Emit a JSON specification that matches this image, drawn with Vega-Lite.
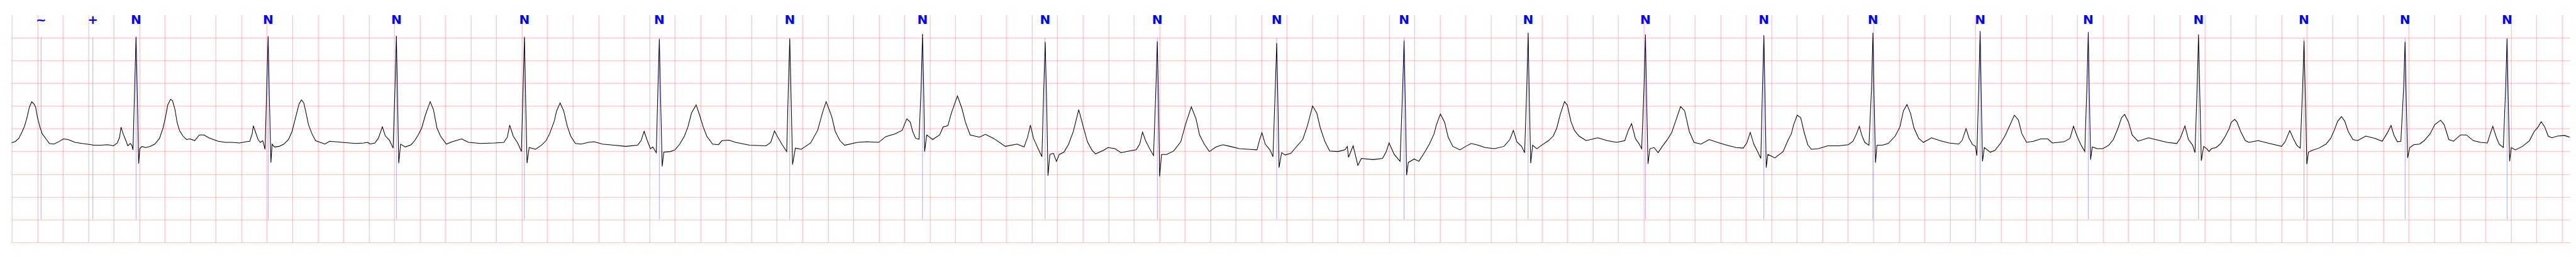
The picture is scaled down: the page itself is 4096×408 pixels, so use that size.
{
  "$schema": "https://vega.github.io/schema/vega-lite/v6.json",
  "width": 4067.3,
  "height": 360.8,
  "autosize": {"type": "none"},
  "padding": {"left": 18.66, "top": 23.77, "right": 10.04, "bottom": 23.43},
  "background": "white",
  "config": {"view": {"stroke": null}},
  "datasets": {
    "ann": [
      {"t": 0.230, "label": "~"}, {"t": 0.6365, "label": "+"},
      {"t": 0.975, "label": "N"}, {"t": 2.011, "label": "N"}, {"t": 3.017, "label": "N"}, {"t": 4.021, "label": "N"},
      {"t": 5.079, "label": "N"}, {"t": 6.102, "label": "N"}, {"t": 7.143, "label": "N"}, {"t": 8.105, "label": "N"},
      {"t": 8.985, "label": "N"}, {"t": 9.921, "label": "N"}, {"t": 10.920, "label": "N"}, {"t": 11.893, "label": "N"},
      {"t": 12.813, "label": "N"}, {"t": 13.742, "label": "N"}, {"t": 14.597, "label": "N"}, {"t": 15.438, "label": "N"},
      {"t": 16.286, "label": "N"}, {"t": 17.151, "label": "N"}, {"t": 17.978, "label": "N"}, {"t": 18.771, "label": "N"},
      {"t": 19.571, "label": "N"}
    ],
    "ecg": [
      {"t":0.000,"v":-0.311},{"t":0.0276,"v":-0.285},{"t":0.0552,"v":-0.215},{"t":0.0828,"v":-0.063},{"t":0.1012,"v":0.063},
      {"t":0.1196,"v":0.240},{"t":0.1380,"v":0.467},{"t":0.1564,"v":0.588},{"t":0.1748,"v":0.543},{"t":0.1876,"v":0.467},
      {"t":0.2024,"v":0.240},{"t":0.2208,"v":0.038},{"t":0.2392,"v":-0.114},{"t":0.2667,"v":-0.215},{"t":0.2943,"v":-0.328},
      {"t":0.3311,"v":-0.341},{"t":0.3679,"v":-0.290},{"t":0.4047,"v":-0.227},{"t":0.4415,"v":-0.240},{"t":0.4967,"v":-0.303},
      {"t":0.5519,"v":-0.328},{"t":0.6071,"v":-0.348},{"t":0.6439,"v":-0.366},{"t":0.6991,"v":-0.366},{"t":0.7543,"v":-0.354},
      {"t":0.7984,"v":-0.379},{"t":0.8279,"v":-0.316},{"t":0.8462,"v":-0.189},{"t":0.8573,"v":0.033},{"t":0.8738,"v":-0.114},
      {"t":0.8922,"v":-0.240},{"t":0.9106,"v":-0.379},{"t":0.9290,"v":-0.328},{"t":0.9419,"v":-0.366},{"t":0.9511,"v":-0.467},
      {"t":0.9640,"v":0.896},{"t":0.9750,"v":2.020},{"t":0.9860,"v":0.644},{"t":0.9953,"v":-0.770},{"t":1.0045,"v":-0.442},
      {"t":1.0210,"v":-0.391},{"t":1.0486,"v":-0.417},{"t":1.0854,"v":-0.391},{"t":1.1222,"v":-0.341},{"t":1.1590,"v":-0.215},
      {"t":1.1866,"v":0.013},{"t":1.2050,"v":0.240},{"t":1.2234,"v":0.518},{"t":1.2455,"v":0.644},{"t":1.2602,"v":0.619},
      {"t":1.2786,"v":0.442},{"t":1.2970,"v":0.139},{"t":1.3154,"v":-0.038},{"t":1.3430,"v":-0.164},{"t":1.3706,"v":-0.240},
      {"t":1.3982,"v":-0.227},{"t":1.4350,"v":-0.265},{"t":1.4717,"v":-0.139},{"t":1.5085,"v":-0.139},{"t":1.5453,"v":-0.202},
      {"t":1.5821,"v":-0.240},{"t":1.6189,"v":-0.278},{"t":1.6741,"v":-0.303},{"t":1.7293,"v":-0.303},{"t":1.7845,"v":-0.316},
      {"t":1.8397,"v":-0.290},{"t":1.8673,"v":-0.278},{"t":1.8857,"v":-0.114},{"t":1.8949,"v":0.063},{"t":1.9133,"v":-0.088},
      {"t":1.9317,"v":-0.240},{"t":1.9501,"v":-0.303},{"t":1.9685,"v":-0.265},{"t":1.9869,"v":-0.455},{"t":2.0000,"v":0.896},
      {"t":2.0108,"v":2.033},{"t":2.0210,"v":0.644},{"t":2.0328,"v":-0.745},{"t":2.0421,"v":-0.341},{"t":2.0604,"v":-0.404},
      {"t":2.0972,"v":-0.391},{"t":2.1340,"v":-0.341},{"t":2.1708,"v":-0.240},{"t":2.1984,"v":-0.063},{"t":2.2260,"v":0.240},
      {"t":2.2536,"v":0.543},{"t":2.2720,"v":0.631},{"t":2.2904,"v":0.568},{"t":2.3088,"v":0.341},{"t":2.3272,"v":0.088},
      {"t":2.3548,"v":-0.114},{"t":2.3824,"v":-0.265},{"t":2.4192,"v":-0.303},{"t":2.4560,"v":-0.341},{"t":2.4928,"v":-0.278},
      {"t":2.5388,"v":-0.290},{"t":2.5940,"v":-0.303},{"t":2.6492,"v":-0.316},{"t":2.7043,"v":-0.328},{"t":2.7595,"v":-0.316},
      {"t":2.7925,"v":-0.303},{"t":2.8109,"v":-0.341},{"t":2.8477,"v":-0.316},{"t":2.8753,"v":-0.215},{"t":2.9066,"v":0.038},
      {"t":2.9305,"v":-0.164},{"t":2.9618,"v":-0.253},{"t":2.9912,"v":-0.429},{"t":3.0059,"v":0.896},{"t":3.0169,"v":2.038},
      {"t":3.0261,"v":0.644},{"t":3.0353,"v":-0.758},{"t":3.0501,"v":-0.341},{"t":3.0868,"v":-0.404},{"t":3.1328,"v":-0.354},
      {"t":3.1604,"v":-0.265},{"t":3.1880,"v":-0.139},{"t":3.2156,"v":0.013},{"t":3.2432,"v":0.290},{"t":3.2819,"v":0.593},
      {"t":3.3076,"v":0.417},{"t":3.3352,"v":0.013},{"t":3.3628,"v":-0.164},{"t":3.4088,"v":-0.341},{"t":3.4548,"v":-0.290},
      {"t":3.5284,"v":-0.227},{"t":3.5836,"v":-0.303},{"t":3.6756,"v":-0.328},{"t":3.7859,"v":-0.316},{"t":3.8595,"v":-0.303},
      {"t":3.8871,"v":-0.189},{"t":3.9055,"v":0.076},{"t":3.9331,"v":-0.164},{"t":3.9699,"v":-0.328},{"t":3.9975,"v":-0.505},
      {"t":4.0104,"v":0.896},{"t":4.0214,"v":2.020},{"t":4.0306,"v":0.644},{"t":4.0416,"v":-0.758},{"t":4.0582,"v":-0.417},
      {"t":4.1079,"v":-0.455},{"t":4.1539,"v":-0.366},{"t":4.1907,"v":-0.265},{"t":4.2183,"v":-0.114},{"t":4.2551,"v":0.164},
      {"t":4.2735,"v":0.391},{"t":4.3011,"v":0.563},{"t":4.3287,"v":0.391},{"t":4.3562,"v":0.063},{"t":4.3838,"v":-0.164},
      {"t":4.4206,"v":-0.328},{"t":4.4666,"v":-0.341},{"t":4.5218,"v":-0.303},{"t":4.5678,"v":-0.290},{"t":4.6322,"v":-0.341},
      {"t":4.7242,"v":-0.366},{"t":4.8162,"v":-0.391},{"t":4.9082,"v":-0.366},{"t":4.9358,"v":-0.265},{"t":4.9597,"v":-0.058},
      {"t":4.9817,"v":-0.240},{"t":5.0093,"v":-0.442},{"t":5.0277,"v":-0.404},{"t":5.0553,"v":-0.530},{"t":5.0681,"v":0.896},
      {"t":5.0792,"v":1.970},{"t":5.0902,"v":0.518},{"t":5.1013,"v":-0.833},{"t":5.1141,"v":-0.518},{"t":5.1656,"v":-0.505},
      {"t":5.2024,"v":-0.467},{"t":5.2392,"v":-0.341},{"t":5.2760,"v":-0.164},{"t":5.3036,"v":0.038},{"t":5.3312,"v":0.341},
      {"t":5.3680,"v":0.523},{"t":5.3956,"v":0.290},{"t":5.4232,"v":0.038},{"t":5.4508,"v":-0.164},{"t":5.4968,"v":-0.341},
      {"t":5.5428,"v":-0.354},{"t":5.5704,"v":-0.265},{"t":5.6256,"v":-0.253},
      {"t":5.6770,"v":-0.303},{"t":5.7874,"v":-0.366},{"t":5.9162,"v":-0.379},{"t":5.9530,"v":-0.303},{"t":5.9824,"v":-0.051},
      {"t":6.0081,"v":-0.189},{"t":6.0449,"v":-0.366},{"t":6.0781,"v":-0.505},{"t":6.0909,"v":0.896},{"t":6.1020,"v":1.982},
      {"t":6.1130,"v":0.644},{"t":6.1240,"v":-0.790},{"t":6.1461,"v":-0.429},{"t":6.1921,"v":-0.455},{"t":6.2657,"v":-0.316},
      {"t":6.3209,"v":-0.038},{"t":6.3577,"v":0.341},{"t":6.3871,"v":0.593},{"t":6.4313,"v":0.265},{"t":6.4589,"v":-0.063},
      {"t":6.4957,"v":-0.265},{"t":6.5325,"v":-0.366},{"t":6.6337,"v":-0.303},{"t":6.7072,"v":-0.290},{"t":6.7992,"v":-0.303},
      {"t":6.8544,"v":-0.177},{"t":6.9280,"v":-0.114},{"t":6.9832,"v":-0.038},{"t":7.0200,"v":0.215},{"t":7.0476,"v":0.139},
      {"t":7.0660,"v":-0.063},{"t":7.0899,"v":-0.215},{"t":7.1157,"v":-0.235},{"t":7.1322,"v":0.896},{"t":7.1432,"v":2.083},
      {"t":7.1524,"v":0.896},{"t":7.1598,"v":-0.505},{"t":7.1763,"v":-0.139},{"t":7.2223,"v":-0.240},{"t":7.2775,"v":-0.139},
      {"t":7.3051,"v":0.038},{"t":7.3419,"v":0.063},{"t":7.3695,"v":0.341},{"t":7.4173,"v":0.720},{"t":7.4523,"v":0.442},
      {"t":7.4799,"v":0.139},{"t":7.5167,"v":-0.139},{"t":7.5903,"v":-0.189},{"t":7.6363,"v":-0.126},{"t":7.7007,"v":-0.215},
      {"t":7.7927,"v":-0.391},{"t":7.8846,"v":-0.341},{"t":7.9398,"v":-0.404},{"t":7.9674,"v":-0.189},{"t":7.9895,"v":0.076},
      {"t":8.0134,"v":-0.215},{"t":8.0502,"v":-0.442},{"t":8.0796,"v":-0.619},{"t":8.0943,"v":0.896},{"t":8.1054,"v":1.907},
      {"t":8.1164,"v":0.644},{"t":8.1274,"v":-1.035},{"t":8.1422,"v":-0.568},{"t":8.1698,"v":-0.543},{"t":8.1937,"v":-0.720},
      {"t":8.2157,"v":-0.568},{"t":8.2525,"v":-0.518},{"t":8.2893,"v":-0.341},{"t":8.3261,"v":-0.063},{"t":8.3684,"v":0.417},
      {"t":8.3997,"v":0.088},{"t":8.4365,"v":-0.290},{"t":8.4733,"v":-0.480},{"t":8.5009,"v":-0.556},
      {"t":8.5616,"v":-0.480},{"t":8.5984,"v":-0.417},{"t":8.6536,"v":-0.442},{"t":8.6996,"v":-0.530},{"t":8.7640,"v":-0.492},
      {"t":8.8192,"v":-0.467},{"t":8.8468,"v":-0.341},{"t":8.8688,"v":-0.076},{"t":8.8927,"v":-0.265},{"t":8.9295,"v":-0.467},
      {"t":8.9553,"v":-0.593},{"t":8.9737,"v":0.896},{"t":8.9847,"v":1.919},{"t":8.9939,"v":0.644},{"t":9.0031,"v":-1.053},
      {"t":9.0179,"v":-0.568},{"t":9.0583,"v":-0.568},{"t":9.1135,"v":-0.492},{"t":9.1687,"v":-0.290},{"t":9.2055,"v":0.088},
      {"t":9.2515,"v":0.480},{"t":9.2883,"v":0.215},{"t":9.3159,"v":-0.139},{"t":9.3527,"v":-0.341},{"t":9.3932,"v":-0.505},
      {"t":9.4447,"v":-0.404},{"t":9.4998,"v":-0.354},{"t":9.5550,"v":-0.391},{"t":9.6286,"v":-0.442},{"t":9.7022,"v":-0.455},
      {"t":9.7666,"v":-0.467},{"t":9.7850,"v":-0.265},{"t":9.8052,"v":-0.088},{"t":9.8310,"v":-0.341},{"t":9.8678,"v":-0.467},
      {"t":9.8917,"v":-0.619},{"t":9.9101,"v":0.896},{"t":9.9211,"v":1.881},{"t":9.9303,"v":0.644},{"t":9.9395,"v":-0.859},
      {"t":9.9597,"v":-0.530},{"t":9.9873,"v":-0.581},{"t":10.0333,"v":-0.543},{"t":10.0701,"v":-0.417},{"t":10.1253,"v":-0.240},
      {"t":10.1621,"v":0.063},{"t":10.2026,"v":0.497},{"t":10.2357,"v":0.341},{"t":10.2633,"v":0.013},{"t":10.3001,"v":-0.290},
      {"t":10.3369,"v":-0.492},{"t":10.4013,"v":-0.505},{"t":10.4565,"v":-0.467},{"t":10.4749,"v":-0.391},{"t":10.4841,"v":-0.631},
      {"t":10.5209,"v":-0.379},{"t":10.5577,"v":-0.808},{"t":10.5853,"v":-0.657},{"t":10.6773,"v":-0.682},{"t":10.7509,"v":-0.657},
      {"t":10.7785,"v":-0.518},{"t":10.8024,"v":-0.316},{"t":10.8429,"v":-0.568},{"t":10.8888,"v":-0.720},{"t":10.9091,"v":0.896},
      {"t":10.9201,"v":1.937},{"t":10.9293,"v":0.644},{"t":10.9403,"v":-1.023},{"t":10.9532,"v":-0.745},{"t":10.9992,"v":-0.669},
      {"t":11.0360,"v":-0.720},{"t":11.0820,"v":-0.518},{"t":11.1188,"v":-0.341},{"t":11.1556,"v":-0.114},{"t":11.1740,"v":0.088},
      {"t":11.2052,"v":0.321},{"t":11.2383,"v":0.139},{"t":11.2659,"v":-0.189},{"t":11.3027,"v":-0.391},{"t":11.3579,"v":-0.467},
      {"t":11.4039,"v":-0.391},
      {"t":11.4462,"v":-0.328},{"t":11.5014,"v":-0.366},{"t":11.5566,"v":-0.417},{"t":11.6302,"v":-0.442},{"t":11.7038,"v":-0.391},
      {"t":11.7498,"v":-0.240},{"t":11.7773,"v":-0.038},{"t":11.8049,"v":-0.290},{"t":11.8417,"v":-0.391},{"t":11.8657,"v":-0.530},
      {"t":11.8822,"v":0.896},{"t":11.8933,"v":2.109},{"t":11.9024,"v":0.644},{"t":11.9135,"v":-0.758},{"t":11.9282,"v":-0.366},
      {"t":11.9613,"v":-0.442},{"t":11.9981,"v":-0.366},{"t":12.0533,"v":-0.265},{"t":12.0901,"v":-0.164},{"t":12.1177,"v":0.013},
      {"t":12.1453,"v":0.316},{"t":12.1784,"v":0.593},{"t":12.2005,"v":0.518},{"t":12.2281,"v":0.164},{"t":12.2557,"v":-0.038},
      {"t":12.2925,"v":-0.164},{"t":12.3477,"v":-0.265},{"t":12.4396,"v":-0.202},{"t":12.5132,"v":-0.265},{"t":12.5868,"v":-0.303},
      {"t":12.6512,"v":-0.265},{"t":12.6788,"v":-0.038},{"t":12.7046,"v":0.109},{"t":12.7340,"v":-0.215},{"t":12.7616,"v":-0.328},
      {"t":12.7836,"v":-0.442},{"t":12.8020,"v":0.896},{"t":12.8131,"v":2.071},{"t":12.8223,"v":0.644},{"t":12.8333,"v":-0.775},
      {"t":12.8480,"v":-0.442},{"t":12.8811,"v":-0.417},{"t":12.9124,"v":-0.530},{"t":12.9455,"v":-0.391},{"t":12.9823,"v":-0.253},
      {"t":13.0191,"v":-0.088},{"t":13.0467,"v":0.139},{"t":13.0890,"v":0.487},{"t":13.1203,"v":0.391},{"t":13.1571,"v":-0.063},
      {"t":13.1939,"v":-0.303},{"t":13.2491,"v":-0.341},{"t":13.3135,"v":-0.240},{"t":13.3779,"v":-0.303},{"t":13.4515,"v":-0.366},
      {"t":13.5250,"v":-0.417},{"t":13.5802,"v":-0.429},{"t":13.6078,"v":-0.316},{"t":13.6354,"v":-0.083},{"t":13.6630,"v":-0.341},
      {"t":13.6906,"v":-0.492},{"t":13.7182,"v":-0.657},{"t":13.7311,"v":0.896},{"t":13.7421,"v":2.053},{"t":13.7513,"v":0.644},
      {"t":13.7605,"v":-0.859},{"t":13.7734,"v":-0.568},{"t":13.8286,"v":-0.644},{"t":13.8930,"v":-0.505},{"t":13.9298,"v":-0.265},
      {"t":13.9574,"v":-0.114},{"t":13.9758,"v":0.088},{"t":14.0034,"v":0.295},{"t":14.0310,"v":0.240},{"t":14.0586,"v":-0.088},
      {"t":14.0862,"v":-0.354},{"t":14.1138,"v":-0.455},{"t":14.1690,"v":-0.442},{"t":14.2426,"v":-0.379},
      {"t":14.3307,"v":-0.379},{"t":14.4043,"v":-0.354},{"t":14.4411,"v":-0.278},{"t":14.4687,"v":-0.114},{"t":14.4908,"v":0.051},
      {"t":14.5091,"v":-0.139},{"t":14.5331,"v":-0.303},{"t":14.5662,"v":-0.366},{"t":14.5864,"v":0.896},{"t":14.5975,"v":2.109},
      {"t":14.6067,"v":0.644},{"t":14.6177,"v":-0.750},{"t":14.6287,"v":-0.366},{"t":14.6710,"v":-0.366},{"t":14.7170,"v":-0.328},
      {"t":14.7722,"v":-0.164},{"t":14.8090,"v":0.038},{"t":14.8366,"v":0.391},{"t":14.8642,"v":0.530},{"t":14.8918,"v":0.341},
      {"t":14.9194,"v":0.013},{"t":14.9562,"v":-0.215},{"t":14.9930,"v":-0.303},{"t":15.0574,"v":-0.202},{"t":15.1218,"v":-0.265},
      {"t":15.1954,"v":-0.316},{"t":15.2689,"v":-0.341},{"t":15.2965,"v":-0.265},{"t":15.3278,"v":0.000},{"t":15.3518,"v":-0.215},
      {"t":15.3793,"v":-0.354},{"t":15.4014,"v":-0.391},{"t":15.4124,"v":-0.593},{"t":15.4272,"v":0.896},{"t":15.4382,"v":2.146},
      {"t":15.4474,"v":0.644},{"t":15.4566,"v":-0.720},{"t":15.4713,"v":-0.417},{"t":15.5173,"v":-0.518},{"t":15.5541,"v":-0.480},
      {"t":15.6001,"v":-0.316},{"t":15.6369,"v":-0.139},{"t":15.6737,"v":0.088},{"t":15.7068,"v":0.295},{"t":15.7380,"v":0.189},
      {"t":15.7656,"v":-0.114},{"t":15.8024,"v":-0.303},{"t":15.8576,"v":-0.278},{"t":15.9128,"v":-0.227},{"t":15.9680,"v":-0.227},
      {"t":16.0048,"v":-0.316},{"t":16.0968,"v":-0.290},{"t":16.1428,"v":-0.215},{"t":16.1704,"v":0.051},{"t":16.1980,"v":-0.164},
      {"t":16.2256,"v":-0.341},{"t":16.2587,"v":-0.505},{"t":16.2752,"v":0.896},{"t":16.2863,"v":2.121},{"t":16.2955,"v":0.644},
      {"t":16.3047,"v":-0.682},{"t":16.3176,"v":-0.404},{"t":16.3543,"v":-0.442},{"t":16.4003,"v":-0.442},{"t":16.4463,"v":-0.366},
      {"t":16.4831,"v":-0.240},{"t":16.5199,"v":0.013},{"t":16.5475,"v":0.240},{"t":16.5714,"v":0.311},{"t":16.6027,"v":0.139},
      {"t":16.6303,"v":-0.139},{"t":16.6763,"v":-0.278},{"t":16.7591,"v":-0.202},{"t":16.8327,"v":-0.253},{"t":16.9063,"v":-0.303},
      {"t":16.9798,"v":-0.328},{"t":17.0074,"v":-0.215},{"t":17.0442,"v":0.058},{"t":17.0718,"v":-0.240},{"t":17.1049,"v":-0.366},
      {"t":17.1233,"v":-0.530},{"t":17.1398,"v":0.896},{"t":17.1509,"v":2.071},{"t":17.1619,"v":0.644},{"t":17.1730,"v":-0.707},
      {"t":17.1914,"v":-0.391},
      {"t":17.2153,"v":-0.442},{"t":17.2336,"v":-0.505},{"t":17.2520,"v":-0.442},{"t":17.2887,"v":-0.417},{"t":17.3254,"v":-0.328},
      {"t":17.3621,"v":-0.164},{"t":17.3896,"v":-0.013},{"t":17.4079,"v":0.139},{"t":17.4354,"v":0.202},{"t":17.4538,"v":0.139},
      {"t":17.4813,"v":-0.063},{"t":17.5180,"v":-0.265},{"t":17.5455,"v":-0.303},{"t":17.6189,"v":-0.265},{"t":17.6923,"v":-0.316},
      {"t":17.7657,"v":-0.366},{"t":17.8023,"v":-0.391},{"t":17.8299,"v":-0.290},{"t":17.8666,"v":-0.043},{"t":17.8941,"v":-0.215},
      {"t":17.9216,"v":-0.366},{"t":17.9491,"v":-0.429},{"t":17.9674,"v":0.896},{"t":17.9785,"v":1.932},{"t":17.9895,"v":0.644},
      {"t":18.0005,"v":-0.783},{"t":18.0133,"v":-0.518},{"t":18.0408,"v":-0.480},{"t":18.0959,"v":-0.429},{"t":18.1509,"v":-0.341},
      {"t":18.1876,"v":-0.215},{"t":18.2151,"v":-0.038},{"t":18.2426,"v":0.164},{"t":18.2720,"v":0.265},{"t":18.2977,"v":0.164},
      {"t":18.3252,"v":-0.063},{"t":18.3619,"v":-0.240},{"t":18.3985,"v":-0.265},{"t":18.4627,"v":-0.164},{"t":18.5361,"v":-0.215},
      {"t":18.5912,"v":-0.278},{"t":18.6279,"v":-0.114},{"t":18.6609,"v":0.068},{"t":18.6829,"v":-0.139},{"t":18.7104,"v":-0.290},
      {"t":18.7379,"v":-0.278},{"t":18.7599,"v":0.896},{"t":18.7709,"v":1.907},{"t":18.7801,"v":0.644},{"t":18.7911,"v":-0.644},
      {"t":18.8076,"v":-0.417},{"t":18.8388,"v":-0.354},{"t":18.8847,"v":-0.341},{"t":18.9214,"v":-0.265},{"t":18.9672,"v":-0.114},
      {"t":19.0039,"v":0.088},{"t":19.0498,"v":0.184},{"t":19.0773,"v":0.088},{"t":19.1140,"v":-0.240},{"t":19.1507,"v":-0.278},
      {"t":19.2057,"v":-0.139},{"t":19.2516,"v":-0.139},{"t":19.3066,"v":-0.265},{"t":19.3617,"v":-0.303},{"t":19.4167,"v":-0.316},
      {"t":19.4387,"v":-0.114},{"t":19.4589,"v":0.051},{"t":19.4864,"v":-0.189},{"t":19.5084,"v":-0.341},{"t":19.5414,"v":-0.417},
      {"t":19.5598,"v":0.896},{"t":19.5708,"v":1.977},{"t":19.5800,"v":0.644},{"t":19.5910,"v":-0.720},{"t":19.6038,"v":-0.417},
      {"t":19.6368,"v":-0.467},{"t":19.6919,"v":-0.391},{"t":19.7469,"v":-0.265},{"t":19.7836,"v":-0.063},{"t":19.8111,"v":0.025},
      {"t":19.8386,"v":0.152},{"t":19.8661,"v":0.038},{"t":19.8936,"v":-0.164},{"t":19.9211,"v":-0.202},{"t":19.9670,"v":-0.164},
      {"t":20.0220,"v":-0.152},{"t":20.0620,"v":-0.189}
    ]
  },
  "layer": [
    {
      "data": {"name": "ecg"},
      "mark": {"type": "line", "color": "black", "strokeWidth": 1.05, "interpolate": "linear"},
      "encoding": {
        "x": {
          "field": "t", "type": "quantitative",
          "scale": {"domain": [0, 20.062], "nice": false, "zero": false},
          "axis": {
            "values": [0,0.2,0.4,0.6,0.8,1,1.2,1.4,1.6,1.8,2,2.2,2.4,2.6,2.8,3,3.2,3.4,3.6,3.8,4,4.2,4.4,4.6,4.8,5,5.2,5.4,5.6,5.8,6,6.2,6.4,6.6,6.8,7,7.2,7.4,7.6,7.8,8,8.2,8.4,8.6,8.8,9,9.2,9.4,9.6,9.8,10,10.2,10.4,10.6,10.8,11,11.2,11.4,11.6,11.8,12,12.2,12.4,12.6,12.8,13,13.2,13.4,13.6,13.8,14,14.2,14.4,14.6,14.8,15,15.2,15.4,15.6,15.8,16,16.2,16.4,16.6,16.8,17,17.2,17.4,17.6,17.8,18,18.2,18.4,18.6,18.8,19,19.2,19.4,19.6,19.8,20],
            "grid": true, "gridColor": "#ff0000", "gridOpacity": 0.27, "gridWidth": 1.1,
            "domain": false, "ticks": false, "labels": false, "title": null
          }
        },
        "y": {
          "field": "v", "type": "quantitative",
          "scale": {"domain": [-2.5, 2.5], "nice": false, "zero": false},
          "axis": {
            "values": [-2.5,-2,-1.5,-1,-0.5,0,0.5,1,1.5,2],
            "grid": true, "gridColor": "#ff0000", "gridOpacity": 0.27, "gridWidth": 1.1,
            "domain": false, "ticks": false, "labels": false, "title": null
          }
        }
      }
    },
    {
      "data": {"name": "ann"},
      "mark": {"type": "rule", "color": "#0000ff", "strokeWidth": 0.6, "opacity": 0.55},
      "encoding": {
        "x": {"field": "t", "type": "quantitative"},
        "y": {"datum": 2.0},
        "y2": {"datum": -2.0}
      }
    },
    {
      "data": {"name": "ann"},
      "mark": {"type": "text", "color": "#0000ff", "font": "DejaVu Sans", "fontWeight": "bold", "fontSize": 20, "align": "center", "baseline": "alphabetic"},
      "encoding": {
        "x": {"field": "t", "type": "quantitative"},
        "y": {"datum": 2.296},
        "text": {"field": "label"}
      }
    }
  ]
}
